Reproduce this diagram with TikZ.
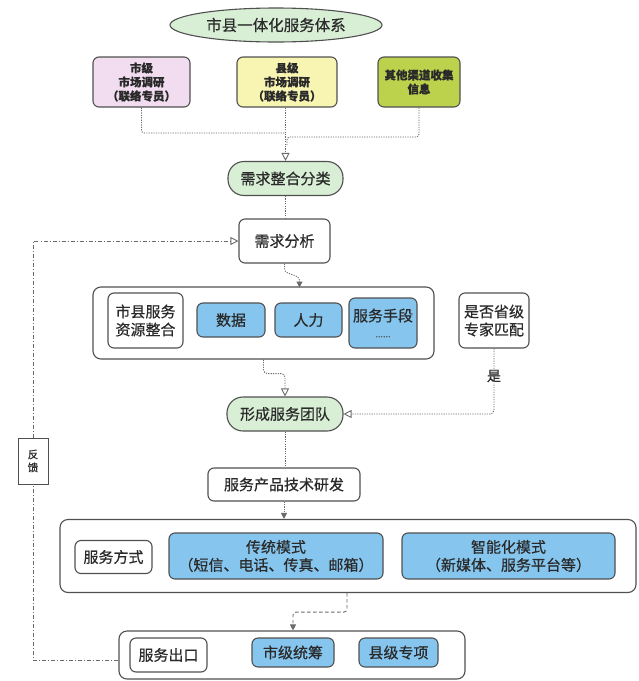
\documentclass[tikz,border=0pt]{standalone}
\usepackage{fontspec}
\setmainfont{Noto Sans CJK SC}[FakeBold=0.5]
\usetikzlibrary{arrows.meta,shapes.geometric,calc}
\definecolor{edge}{HTML}{505050}
\definecolor{txt}{HTML}{2A2A2A}
\definecolor{linec}{HTML}{6A6A6A}
\definecolor{pinkf}{HTML}{F2DDF0}
\definecolor{yellowf}{HTML}{F8F4B2}
\definecolor{olivef}{HTML}{BDD24C}
\definecolor{greenf}{HTML}{D8EFD5}
\definecolor{bluef}{HTML}{86C6EE}
\begin{document}
\begin{tikzpicture}[x=1pt,y=-1pt,
  base/.style={draw=edge, line width=1.1pt, align=center, inner sep=0pt, text=txt,
    font=\fontsize{15}{18}\selectfont},
  box/.style={base, rounded corners=6pt, fill=white},
  bluebox/.style={box, fill=bluef},
  frame/.style={base, rounded corners=8pt, fill=white},
  topbox/.style={box, font=\fontsize{11.5}{14}\bfseries\selectfont, minimum height=50pt},
  pill/.style={base, rounded corners=16pt, fill=greenf, minimum height=34pt},
  conn/.style={draw=linec, line width=0.9pt, dash pattern=on 1.2pt off 1.2pt},
  dashconn/.style={draw=linec, line width=0.9pt, dash pattern=on 3.5pt off 2.5pt},
  fbline/.style={draw=linec, line width=0.9pt, dash pattern=on 4pt off 2pt on 1pt off 2pt},
  opentip/.style={-{Triangle[open,length=8pt,width=8pt,line width=0.9pt]}},
  solidtip/.style={-{Triangle[length=6pt,width=6pt]}},
  lbl/.style={fill=white, inner sep=1pt, text=txt, font=\fontsize{14}{16}\selectfont}
]
\useasboundingbox (0,0) rectangle (639,681);

% top level
\node[base, ellipse, fill=greenf, minimum width=212pt, minimum height=34pt, font=\fontsize{15.5}{18}\selectfont] (title) at (276,25) {市县一体化服务体系};
\node[topbox, fill=pinkf, minimum width=97pt] (shi) at (141.5,82) {市级\\市场调研\\（联络专员）};
\node[topbox, fill=yellowf, minimum width=100pt] (xian) at (287,82) {县级\\市场调研\\（联络专员）};
\node[topbox, fill=olivef, minimum width=82pt] (other) at (419,82) {其他渠道收集\\信息};

\node[pill, minimum width=115pt] (cls) at (285.5,178.5) {需求整合分类};
\node[box, minimum width=91pt, minimum height=44pt] (ana) at (284.5,241) {需求分析};

% resource frame
\node[frame, minimum width=341pt, minimum height=72pt] (box1) at (263.5,323) {};
\node[box, minimum width=75pt, minimum height=55pt] (res) at (145.5,320.5) {市县服务\\资源整合};
\node[bluebox, minimum width=68pt, minimum height=34pt] (data) at (231,320) {数据};
\node[bluebox, minimum width=67pt, minimum height=34pt] (hr) at (308.5,320) {人力};
\node[bluebox, minimum width=68pt, minimum height=50pt] (means) at (383,323) {服务手段\\[-2pt]{\fontsize{9}{10}\selectfont\color{edge}......}};
\node[box, minimum width=70pt, minimum height=55pt] (expert) at (494,320.5) {是否省级\\专家匹配};

\node[pill, minimum width=116pt] (team) at (285,414) {形成服务团队};
\node[box, minimum width=152pt, minimum height=33pt] (rd) at (284,484.5) {服务产品技术研发};

% service mode frame
\node[frame, minimum width=576pt, minimum height=73pt] (box2) at (348,556) {};
\node[box, minimum width=77pt, minimum height=33pt] (mode) at (113.5,557) {服务方式};
\node[bluebox, minimum width=214pt, minimum height=46pt] (trad) at (276,556) {传统模式\\（短信、电话、传真、邮箱）};
\node[bluebox, minimum width=213pt, minimum height=46pt] (smart) at (508.5,556) {智能化模式\\（新媒体、服务平台等）};

% exit frame
\node[frame, minimum width=346pt, minimum height=48pt] (box3) at (292,655) {};
\node[box, minimum width=77pt, minimum height=34pt] (exit) at (168.5,655) {服务出口};
\node[bluebox, minimum width=82pt, minimum height=29pt] (city) at (293,652.5) {市级统筹};
\node[bluebox, minimum width=79pt, minimum height=29pt] (county) at (398.5,652.5) {县级专项};

% feedback
\node[base, fill=white, line width=1pt, minimum width=30pt, minimum height=46pt,
      font=\fontsize{10.5}{13}\selectfont] (fb) at (33,461) {反\\馈};

% connectors
\coordinate (j1) at (285,133);
\coordinate (j2) at (287,137);
\coordinate (fbin) at ([yshift=-5pt]box3.west);
\draw[conn, rounded corners=3pt] (shi.south) |- (j1);
\draw[conn, rounded corners=3pt] (other.south) |- (j2) -- ++(0,8);
\draw[conn, opentip] (xian.south -| cls.north) -- (cls.north);
\draw[conn] (cls.south) -- (cls.south |- ana.north);
\draw[conn, solidtip, rounded corners=3pt] (ana.south) -- ++(0,8) -- ++(15,6) -- ++(0,10);
\draw[conn, opentip, rounded corners=4pt] (box1.south) -- ++(0,14) -| (team.north);
\draw[conn, opentip, rounded corners=4pt] (expert.south) -- node[lbl, pos=0.42]{是} (expert.south |- team.east) -- (team.east);
\draw[conn] (team.south) -- (team.south |- rd.north);
\draw[conn, solidtip] (rd.south) -- (rd.south |- box2.north);
\draw[dashconn, solidtip, rounded corners=3pt] ([xshift=-1pt]box2.south) -- ++(0,19) -| ([xshift=1pt]box3.north);
\draw[fbline] (fbin) -- (fb.south |- fbin) -- (fb.south);
\draw[fbline, opentip] (fb.north) -- (fb.north |- ana.west) -- (ana.west);
\end{tikzpicture}
\end{document}
